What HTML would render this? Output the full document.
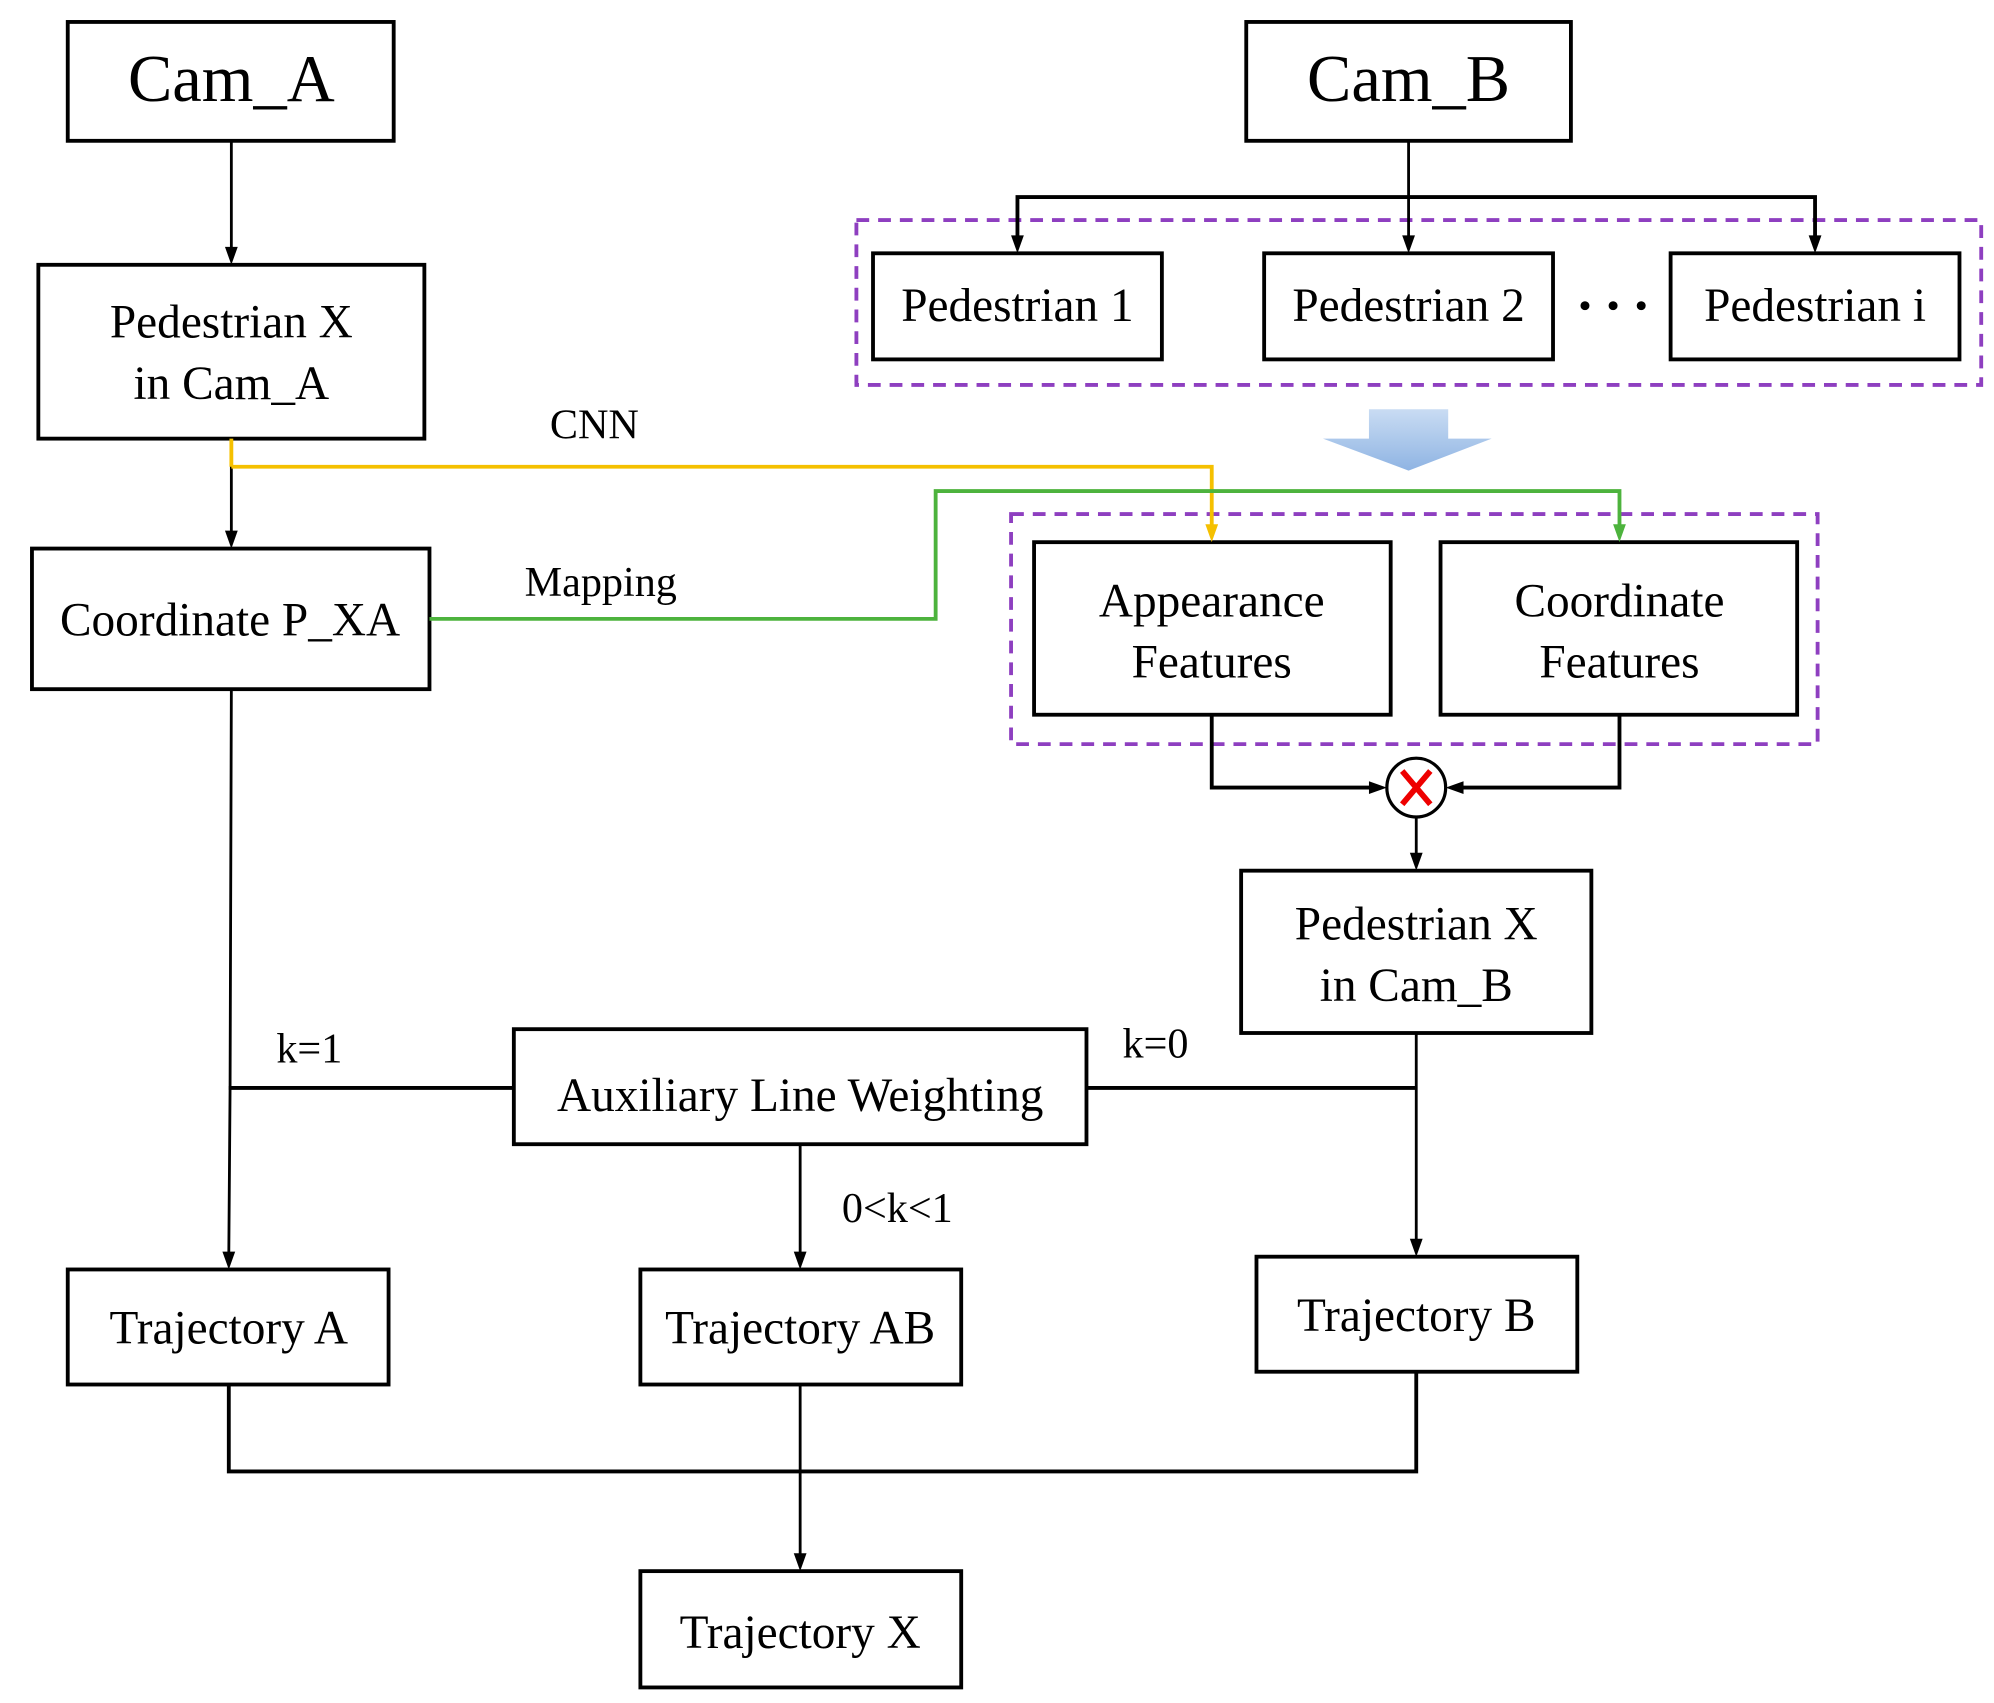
<!DOCTYPE html>
<html><head><style>html,body{margin:0;padding:0;background:#fff}svg{display:block}</style></head>
<body>
<svg width="1994" height="1703" viewBox="0 0 1560 1332" xmlns="http://www.w3.org/2000/svg" font-family="'Liberation Serif', serif">
<defs>
<linearGradient id="bg" x1="0" y1="0" x2="0" y2="1"><stop offset="0" stop-color="#c9dcf3"/><stop offset="1" stop-color="#8fb4e3"/></linearGradient>
</defs>
<g fill="none" stroke="#000" stroke-width="2.2">
<rect x="53" y="17" width="255" height="93" stroke-width="3"/>
<rect x="975" y="17" width="254" height="93" stroke-width="3"/>
<rect x="30" y="207" width="302" height="136" stroke-width="3"/>
<rect x="25" y="429" width="311" height="110" stroke-width="3"/>
<rect x="683" y="198" width="226" height="83" stroke-width="3"/>
<rect x="989" y="198" width="226" height="83" stroke-width="3"/>
<rect x="1307" y="198" width="226" height="83" stroke-width="3"/>
<rect x="809" y="424" width="279" height="135" stroke-width="3"/>
<rect x="1127" y="424" width="279" height="135" stroke-width="3"/>
<rect x="971" y="681" width="274" height="127" stroke-width="3"/>
<rect x="402" y="805" width="448" height="90" stroke-width="3"/>
<rect x="53" y="993" width="251" height="90" stroke-width="3"/>
<rect x="501" y="993" width="251" height="90" stroke-width="3"/>
<rect x="983" y="983" width="251" height="90" stroke-width="3"/>
<rect x="501" y="1229" width="251" height="91" stroke-width="3"/>
<rect x="670" y="172" width="880" height="129" stroke="#8e3fc0" stroke-width="3" stroke-dasharray="10,7"/>
<rect x="791" y="402" width="631" height="180" stroke="#8e3fc0" stroke-width="3" stroke-dasharray="10,7"/>
<line x1="181" y1="110" x2="181" y2="195"/>
<line x1="181" y1="343" x2="181" y2="417"/>
<line x1="1102" y1="110" x2="1102" y2="186"/>
<path d="M796,186 V154 H1420 V186" stroke-width="3"/>
<path d="M181,365 H948 V412" stroke="#f5c000" stroke-width="3"/>
<line x1="181" y1="343" x2="181" y2="365" stroke="#f5c000" stroke-width="3"/>
<path d="M336,484 H732 V384 H1267 V412" stroke="#4db33d" stroke-width="3"/>
<path d="M948,559 V616 H1073" stroke-width="3"/>
<path d="M1267,559 V616 H1143" stroke-width="3"/>
<line x1="1108" y1="639" x2="1108" y2="669"/>
<line x1="1108" y1="808" x2="1108" y2="971"/>
<path d="M181,539 L180,851 L179,981"/>
<line x1="179" y1="851" x2="402" y2="851" stroke-width="3"/>
<line x1="850" y1="851" x2="1108" y2="851" stroke-width="3"/>
<line x1="626" y1="895" x2="626" y2="981"/>
<path d="M179,1083 V1151 H1108 V1073" stroke-width="3"/>
<line x1="626" y1="1083" x2="626" y2="1217"/>
<circle cx="1108" cy="616" r="23" fill="#fff" stroke-width="2.5"/>
<path d="M1097,603 L1119,629 M1119,603 L1097,629" stroke="#e00" stroke-width="4.5"/>
</g>
<g fill="#000">
<path d="M176,193 L186,193 L181,207 Z"/>
<path d="M176,415 L186,415 L181,429 Z"/>
<path d="M1097,184 L1107,184 L1102,198 Z"/>
<path d="M791,184 L801,184 L796,198 Z"/>
<path d="M1415,184 L1425,184 L1420,198 Z"/>
<path d="M1103,667 L1113,667 L1108,681 Z"/>
<path d="M1103,969 L1113,969 L1108,983 Z"/>
<path d="M174,979 L184,979 L179,993 Z"/>
<path d="M621,979 L631,979 L626,993 Z"/>
<path d="M621,1215 L631,1215 L626,1229 Z"/>
<path d="M1071,611 L1071,621 L1085,616 Z"/>
<path d="M1145,611 L1145,621 L1131,616 Z"/>
</g>
<path d="M943,410 L953,410 L948,424 Z" fill="#f5c000"/>
<path d="M1262,410 L1272,410 L1267,424 Z" fill="#4db33d"/>
<path d="M1071,320 H1133 V343 H1167 L1102,368 L1035,343 H1071 Z" fill="url(#bg)"/>
<g fill="#000" text-anchor="middle" font-size="37">
<text x="181" y="79" font-size="52">Cam_A</text>
<text x="1102" y="79" font-size="52">Cam_B</text>
<text x="181" y="264">Pedestrian X</text>
<text x="181" y="312">in Cam_A</text>
<text x="180" y="497">Coordinate P_XA</text>
<text x="796" y="251">Pedestrian 1</text>
<text x="1102" y="251">Pedestrian 2</text>
<text x="1420" y="251">Pedestrian i</text>
<text x="948" y="482">Appearance</text>
<text x="948" y="530">Features</text>
<text x="1267" y="482">Coordinate</text>
<text x="1267" y="530">Features</text>
<text x="1108" y="735">Pedestrian X</text>
<text x="1108" y="783">in Cam_B</text>
<text x="626" y="869">Auxiliary Line Weighting</text>
<text x="179" y="1051">Trajectory A</text>
<text x="626" y="1051">Trajectory AB</text>
<text x="1108" y="1041">Trajectory B</text>
<text x="626" y="1289">Trajectory X</text>
<g font-size="33">
<text x="465" y="343">CNN</text>
<text x="470" y="466">Mapping</text>
<text x="242" y="831">k=1</text>
<text x="904" y="827">k=0</text>
<text x="702" y="956">0&lt;k&lt;1</text>
</g>
</g>
<g fill="#000"><circle cx="1240" cy="239" r="3.5"/><circle cx="1262" cy="239" r="3.5"/><circle cx="1284" cy="239" r="3.5"/></g>
</svg>
</body></html>
